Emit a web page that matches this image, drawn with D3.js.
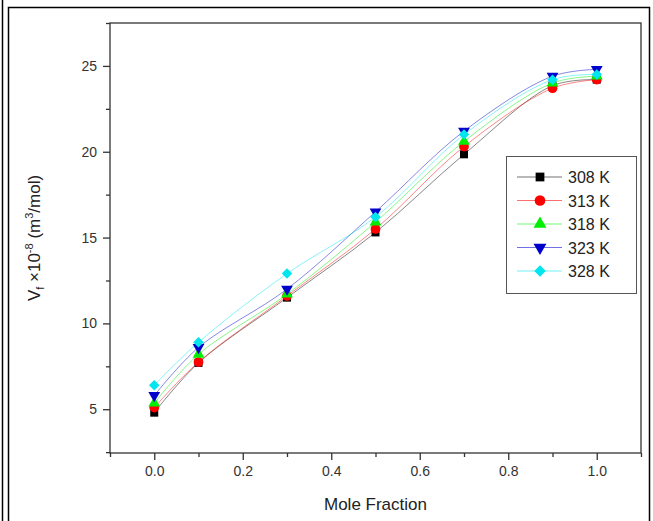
<!DOCTYPE html>
<html>
<head>
<meta charset="utf-8">
<script src="https://cdn.jsdelivr.net/npm/d3@7"></script>
<style>
  body { margin: 0; background: #fff; }
  svg text { font-family: "Liberation Sans", Arial, sans-serif; }
</style>
</head>
<body>
<div id="chart"></div>
<script>
// data
var moleFraction = [0, 0.1, 0.3, 0.5, 0.7, 0.9, 1.0]
var temps = ['308 K', '313 K', '318 K', '323 K', '328 K']
var v308 = [4.8, 7.7, 11.5, 15.3, 19.85, 23.85, 24.2]
var v313 = [5.1, 7.75, 11.6, 15.5, 20.3, 23.7, 24.2]
var v318 = [5.35, 8.2, 11.7, 15.9, 20.6, 24.0, 24.4]
var v323 = [5.8, 8.6, 12.0, 16.5, 21.2, 24.4, 24.8]
var v328 = [6.4, 8.9, 12.9, 16.2, 21.0, 24.2, 24.5]
var xTicks = [0.0, 0.2, 0.4, 0.6, 0.8, 1.0]
var yTicks = [5, 10, 15, 20, 25]

var seriesValues = [v308, v313, v318, v323, v328]
var colors = ['#000000', '#ff0000', '#00ee00', '#0000cc', '#00e5ee']
var symbols = ['square', 'circle', 'up', 'down', 'diamond']

var W = 653, H = 521
var plot = {left: 110, right: 641, top: 23, bottom: 453}

var svg = d3.select('#chart').append('svg')
    .attr('width', W).attr('height', H)

// outer frame
svg.append('line').attr('x1', 2.5).attr('x2', 2.5).attr('y1', 0).attr('y2', H)
    .attr('stroke', '#000').attr('stroke-width', 1.5)
svg.append('rect').attr('x', 8.5).attr('y', 7.5).attr('width', 641).attr('height', H)
    .attr('fill', 'none').attr('stroke', '#000').attr('stroke-width', 1.5)

var x = d3.scaleLinear().domain([-0.1, 1.1]).range([plot.left, plot.right])
var y = d3.scaleLinear().domain([2.45, 27.5]).range([plot.bottom, plot.top])

// frame of the plot
svg.append('rect')
    .attr('x', plot.left).attr('y', plot.top)
    .attr('width', plot.right - plot.left).attr('height', plot.bottom - plot.top)
    .attr('fill', 'none').attr('stroke', '#333').attr('stroke-width', 1.3)

// x axis
var xAxis = svg.append('g').attr('transform', 'translate(0,' + plot.bottom + ')')
xAxis.call(d3.axisBottom(x).tickValues(xTicks).tickSize(7).tickPadding(6).tickFormat(d3.format('.1f')))
xAxis.append('g').call(d3.axisBottom(x).tickValues([-0.1, 0.1, 0.3, 0.5, 0.7, 0.9, 1.1]).tickSize(4).tickFormat(''))
xAxis.selectAll('.domain').remove()
xAxis.selectAll('line').attr('stroke', '#333').attr('stroke-width', 1.3)
xAxis.selectAll('text').attr('fill', '#333').style('font-size', '14px')

// y axis
var yAxis = svg.append('g').attr('transform', 'translate(' + plot.left + ',0)')
yAxis.call(d3.axisLeft(y).tickValues(yTicks).tickSize(7).tickPadding(6))
yAxis.append('g').call(d3.axisLeft(y).tickValues([2.5, 7.5, 12.5, 17.5, 22.5, 27.5]).tickSize(4).tickFormat(''))
yAxis.selectAll('.domain').remove()
yAxis.selectAll('line').attr('stroke', '#333').attr('stroke-width', 1.3)
yAxis.selectAll('text').attr('fill', '#333').style('font-size', '14px')

// axis labels
svg.append('text').attr('x', (plot.left + plot.right) / 2).attr('y', 510)
    .attr('text-anchor', 'middle').attr('fill', '#222').style('font-size', '17px')
    .text('Mole Fraction')

var yl = svg.append('text')
    .attr('transform', 'translate(40,' + ((plot.top + plot.bottom) / 2) + ') rotate(-90)')
    .attr('text-anchor', 'middle').attr('fill', '#222').style('font-size', '17px')
yl.append('tspan').text('V')
yl.append('tspan').attr('dy', 4).style('font-size', '11px').text('f')
yl.append('tspan').attr('dy', -4).text(' \u00d710')
yl.append('tspan').attr('dy', -7).style('font-size', '11px').text('-8')
yl.append('tspan').attr('dy', 7).text(' (m')
yl.append('tspan').attr('dy', -7).style('font-size', '11px').text('3')
yl.append('tspan').attr('dy', 7).text('/mol)')

function symbolPath(s, size) {
    if (s === 'square') return d3.symbol(d3.symbolSquare, size)()
    if (s === 'circle') return d3.symbol(d3.symbolCircle, size)()
    if (s === 'diamond') return d3.symbol(d3.symbolSquare, size)()
    return d3.symbol(d3.symbolTriangle, size)()
}
function symbolTransform(s, px, py) {
    var r = s === 'down' ? ' rotate(180)' : (s === 'diamond' ? ' rotate(45)' : '')
    return 'translate(' + px + ',' + py + ')' + r
}
var sizes = [64, 75, 60, 60, 55]

var line = d3.line()
    .x(function(d) { return x(d[0]) })
    .y(function(d) { return y(d[1]) })
    .curve(d3.curveCatmullRom)

seriesValues.forEach(function(vals, i) {
    var pts = moleFraction.map(function(m, j) { return [m, vals[j]] })
    svg.append('path').datum(pts)
        .attr('fill', 'none').attr('stroke', colors[i]).attr('stroke-width', 0.8)
        .attr('stroke-opacity', 0.6)
        .attr('d', line)
})
seriesValues.forEach(function(vals, i) {
    moleFraction.forEach(function(m, j) {
        svg.append('path')
            .attr('d', symbolPath(symbols[i], sizes[i]))
            .attr('transform', symbolTransform(symbols[i], x(m), y(vals[j])))
            .attr('fill', colors[i])
    })
})

// legend
var lg = svg.append('g')
lg.append('rect').attr('x', 506.5).attr('y', 156.5).attr('width', 130).attr('height', 137)
    .attr('fill', '#fff').attr('stroke', '#555').attr('stroke-width', 1)
temps.forEach(function(t, i) {
    var ly = 177 + i * 23.5
    lg.append('line').attr('x1', 517).attr('x2', 562).attr('y1', ly).attr('y2', ly)
        .attr('stroke', colors[i]).attr('stroke-width', 0.8).attr('stroke-opacity', 0.7)
    lg.append('path').attr('d', symbolPath(symbols[i], sizes[i] * 1.2))
        .attr('transform', symbolTransform(symbols[i], 540, ly))
        .attr('fill', colors[i])
    lg.append('text').attr('x', 568).attr('y', ly + 6)
        .attr('fill', '#222').style('font-size', '16px').text(t)
})
</script>
</body>
</html>
